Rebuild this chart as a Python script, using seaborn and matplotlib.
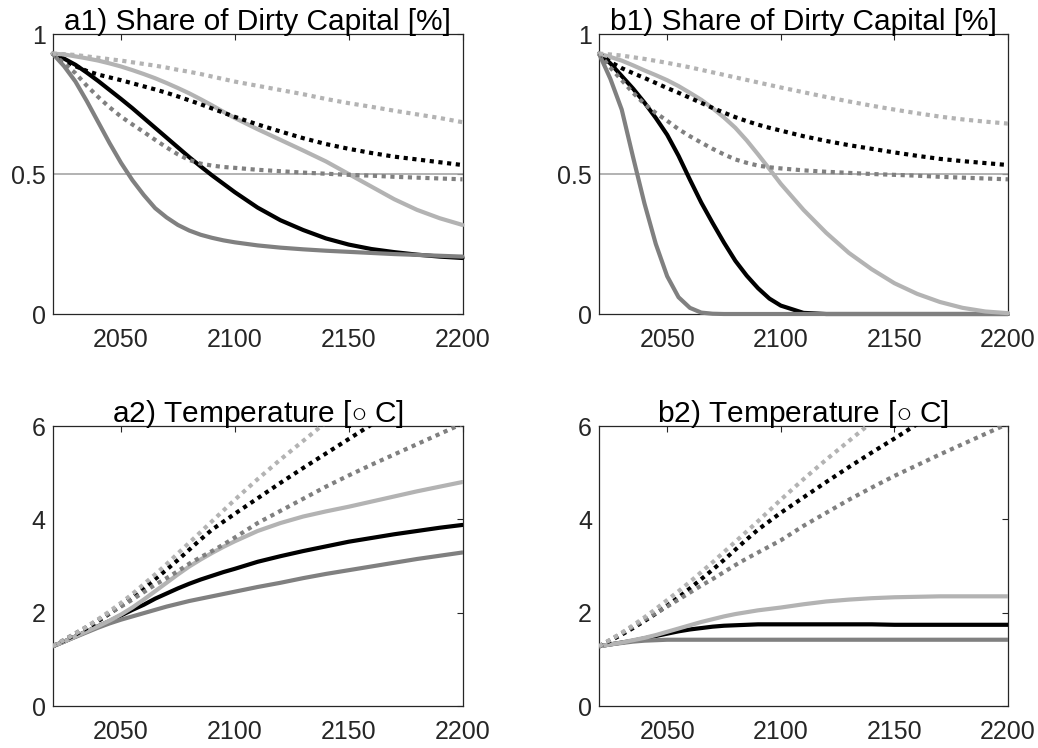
import numpy as np
import pandas as pd
import matplotlib
matplotlib.use("Agg")
import matplotlib.pyplot as plt
import seaborn as sns

sns.set_theme(style="white")
plt.rcParams["font.family"] = ["Liberation Sans", "DejaVu Sans"]
plt.rcParams["mathtext.fontset"] = "custom"
plt.rcParams["mathtext.rm"] = "Liberation Sans"

nan = np.nan

# Years: 5-year steps to 2100, then decades
years = [2020, 2025, 2030, 2035, 2040, 2045, 2050, 2055, 2060, 2065, 2070,
         2075, 2080, 2085, 2090, 2095, 2100, 2110, 2120, 2130, 2140, 2150,
         2160, 2170, 2180, 2190, 2200]

# ---- a1) share of dirty capital ----
a1_black_solid = [.930, .912, .890, .862, .832, .800, .768, .735, .700, .665, .630,
                  .595, .560, .527, .495, .465, .435, .380, .335, .300, .270, .248,
                  .232, .221, .212, .205, .200]
a1_gray_solid = [.930, .885, .830, .760, .685, .610, .540, .478, .425, .378, .345,
                 .318, .298, .283, .272, .263, .256, .245, .237, .231, .226, .222,
                 .218, .214, .211, .208, .205]
a1_light_solid = [.930, .927, .920, .913, .905, .895, .884, .871, .857, .842, .825,
                  .807, .788, .767, .745, .722, .700, .660, .622, .584, .545, .500,
                  .455, .410, .372, .342, .318]
a1_black_dot = [.930, .905, .885, .868, .855, .845, .835, .824, .813, .802, .790,
                .777, .763, .749, .734, .719, .704, .677, .652, .628, .607, .590,
                .575, .562, .552, .542, .532]
a1_gray_dot = [.930, .895, .860, .815, .775, .738, .705, .677, .650, .622, .595,
               .570, .550, .537, .530, .525, .522, .515, .510, .505, .501, .497,
               .494, .490, .487, .484, .481]
a1_light_dot = [.930, .928, .925, .920, .915, .910, .905, .899, .893, .887, .880,
                .872, .865, .857, .848, .839, .830, .815, .800, .785, .768, .753,
                .740, .726, .713, .700, .685]

# ---- b1) share of dirty capital ----
b1_black_solid = [.930, .895, .850, .805, .755, .700, .640, .565, .480, .398, .325,
                  .255, .190, .137, .092, .055, .030, .004, 0, 0, 0, 0,
                  0, 0, 0, 0, 0]
b1_gray_solid = [.930, .840, .730, .560, .395, .250, .135, .060, .022, .005, .001,
                 0, 0, 0, 0, 0, 0, 0, 0, 0, 0, 0,
                 0, 0, 0, 0, 0]
b1_light_solid = [.930, .918, .905, .888, .870, .853, .835, .814, .790, .765, .735,
                  .702, .665, .620, .570, .518, .465, .372, .290, .218, .160, .110,
                  .072, .043, .022, .009, .003]
b1_black_dot = [.930, .900, .878, .860, .843, .825, .807, .790, .772, .754, .736,
                .719, .703, .689, .676, .665, .655, .635, .618, .603, .590, .577,
                .565, .554, .546, .539, .532]
b1_gray_dot = [.930, .880, .835, .790, .750, .718, .690, .660, .635, .612, .590,
               .570, .552, .540, .530, .524, .520, .513, .508, .504, .500, .497,
               .494, .490, .487, .484, .481]
b1_light_dot = [.930, .927, .923, .917, .911, .904, .897, .889, .881, .872, .863,
                .854, .845, .836, .827, .818, .809, .792, .775, .759, .744, .730,
                .717, .705, .695, .687, .680]

# ---- a2) temperature ----
a2_black_solid = [1.28, 1.38, 1.49, 1.60, 1.71, 1.82, 1.94, 2.06, 2.17, 2.30, 2.41,
                  2.52, 2.62, 2.71, 2.79, 2.87, 2.94, 3.09, 3.21, 3.32, 3.42, 3.52,
                  3.60, 3.68, 3.75, 3.82, 3.88]
a2_gray_solid = [1.28, 1.38, 1.48, 1.58, 1.68, 1.77, 1.85, 1.92, 1.99, 2.06, 2.13,
                 2.19, 2.25, 2.30, 2.35, 2.40, 2.45, 2.55, 2.64, 2.74, 2.83, 2.91,
                 2.99, 3.07, 3.15, 3.22, 3.29]
a2_light_solid = [1.28, 1.38, 1.49, 1.60, 1.71, 1.83, 1.96, 2.11, 2.28, 2.46, 2.64,
                  2.82, 2.99, 3.14, 3.28, 3.41, 3.53, 3.75, 3.92, 4.06, 4.17, 4.27,
                  4.38, 4.49, 4.60, 4.70, 4.80]
a2_black_dot = [1.28, 1.40, 1.53, 1.67, 1.82, 1.98, 2.15, 2.33, 2.52, 2.72, 2.92,
                3.13, 3.35, 3.57, 3.78, 3.95, 4.12, 4.45, 4.78, 5.10, 5.41, 5.72,
                6.03, nan, nan, nan, nan]
a2_gray_dot = [1.28, 1.42, 1.56, 1.70, 1.85, 1.99, 2.13, 2.28, 2.44, 2.60, 2.74,
               2.89, 3.05, 3.19, 3.32, 3.46, 3.61, 3.92, 4.18, 4.44, 4.70, 4.94,
               5.17, 5.39, 5.61, 5.83, 6.05]
a2_light_dot = [1.28, 1.41, 1.55, 1.70, 1.86, 2.03, 2.21, 2.40, 2.61, 2.82, 3.04,
                3.27, 3.50, 3.73, 3.96, 4.19, 4.42, 4.86, 5.28, 5.68, 6.08,
                nan, nan, nan, nan, nan, nan]

# ---- b2) temperature ----
b2_black_solid = [1.28, 1.32, 1.36, 1.40, 1.45, 1.50, 1.55, 1.60, 1.64, 1.67, 1.70,
                  1.72, 1.73, 1.74, 1.75, 1.75, 1.75, 1.75, 1.75, 1.75, 1.75, 1.74,
                  1.74, 1.74, 1.74, 1.74, 1.74]
b2_gray_solid = [1.28, 1.32, 1.35, 1.38, 1.40, 1.41, 1.42, 1.42, 1.42, 1.42, 1.42,
                 1.42, 1.42, 1.42, 1.42, 1.42, 1.42, 1.42, 1.42, 1.42, 1.42, 1.42,
                 1.42, 1.42, 1.42, 1.42, 1.42]
b2_light_solid = [1.28, 1.32, 1.36, 1.41, 1.46, 1.52, 1.59, 1.66, 1.73, 1.80, 1.86,
                  1.92, 1.97, 2.01, 2.05, 2.08, 2.11, 2.18, 2.24, 2.28, 2.31, 2.33,
                  2.34, 2.35, 2.35, 2.35, 2.35]
b2_black_dot = [1.28, 1.40, 1.53, 1.67, 1.82, 1.98, 2.15, 2.33, 2.52, 2.72, 2.92,
                3.13, 3.35, 3.57, 3.78, 3.96, 4.14, 4.47, 4.80, 5.12, 5.43, 5.73,
                6.04, nan, nan, nan, nan]
b2_gray_dot = [1.28, 1.42, 1.56, 1.70, 1.85, 1.99, 2.13, 2.28, 2.43, 2.58, 2.72,
               2.87, 3.02, 3.16, 3.29, 3.42, 3.55, 3.86, 4.14, 4.42, 4.68, 4.93,
               5.16, 5.39, 5.61, 5.83, 6.05]
b2_light_dot = [1.28, 1.42, 1.57, 1.73, 1.90, 2.08, 2.27, 2.46, 2.66, 2.87, 3.08,
                3.30, 3.52, 3.74, 3.96, 4.19, 4.42, 4.86, 5.28, 5.68, 6.08,
                nan, nan, nan, nan, nan, nan]

titles = ["a1) Share of Dirty Capital [%]", "b1) Share of Dirty Capital [%]",
          r"a2) Temperature [$\circ$ C]", r"b2) Temperature [$\circ$ C]"]

BLACK, GRAY, LIGHT = "#000000", "#808080", "#b3b3b3"
DOT = (0, (1.0, 1.1))
LW = 3.0

panels = [
    [(a1_black_solid, BLACK, "-"), (a1_gray_solid, GRAY, "-"), (a1_light_solid, LIGHT, "-"),
     (a1_black_dot, BLACK, DOT), (a1_gray_dot, GRAY, DOT), (a1_light_dot, LIGHT, DOT)],
    [(b1_black_solid, BLACK, "-"), (b1_gray_solid, GRAY, "-"), (b1_light_solid, LIGHT, "-"),
     (b1_black_dot, BLACK, DOT), (b1_gray_dot, GRAY, DOT), (b1_light_dot, LIGHT, DOT)],
    [(a2_black_solid, BLACK, "-"), (a2_gray_solid, GRAY, "-"), (a2_light_solid, LIGHT, "-"),
     (a2_black_dot, BLACK, DOT), (a2_gray_dot, GRAY, DOT), (a2_light_dot, LIGHT, DOT)],
    [(b2_black_solid, BLACK, "-"), (b2_gray_solid, GRAY, "-"), (b2_light_solid, LIGHT, "-"),
     (b2_black_dot, BLACK, DOT), (b2_gray_dot, GRAY, DOT), (b2_light_dot, LIGHT, DOT)],
]

fig = plt.figure(figsize=(10.38, 7.48), dpi=100)
W, H = 1038, 748
boxes = [(52.7, 34, 462.5, 314), (599, 34, 1008, 314),
         (52.7, 426, 462.5, 706), (599, 426, 1008, 706)]

AX_COLOR = "#262626"
for i, (box, series, title) in enumerate(zip(boxes, panels, titles)):
    x0, y0, x1, y1 = box
    ax = fig.add_axes([x0 / W, 1 - y1 / H, (x1 - x0) / W, (y1 - y0) / H])
    top_row = i < 2
    if top_row:
        ax.axhline(0.5, color="#a6a6a6", lw=1.2, zorder=1)
    for vals, color, ls in series:
        df = pd.DataFrame({"year": years, "value": vals}).dropna()
        sns.lineplot(data=df, x="year", y="value", ax=ax, color=color,
                     linewidth=LW, linestyle=ls, clip_on=not top_row, zorder=3)
    ax.set_xlim(2020, 2200)
    ax.set_xticks([2050, 2100, 2150, 2200])
    if top_row:
        ax.set_ylim(0, 1)
        ax.set_yticks([0, 0.5, 1])
        ax.set_yticklabels(["0", "0.5", "1"])
    else:
        ax.set_ylim(0, 6)
        ax.set_yticks([0, 2, 4, 6])
    ax.set_xlabel("")
    ax.set_ylabel("")
    ax.set_title(title, fontsize=21.5, pad=3, color="black")
    ax.tick_params(direction="in", length=4, width=0.8, top=True, right=True,
                   labelsize=18, colors=AX_COLOR, labelcolor=AX_COLOR)
    ax.tick_params(axis="x", pad=10)
    ax.tick_params(axis="y", pad=5)
    for sp in ax.spines.values():
        sp.set_color(AX_COLOR)
        sp.set_linewidth(0.9)
        sp.set_zorder(2)

fig.savefig("out.png", dpi=100, facecolor="white")
